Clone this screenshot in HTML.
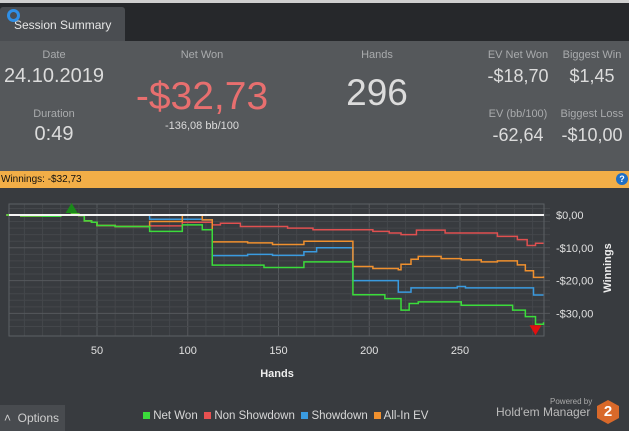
<!DOCTYPE html>
<html><head><meta charset="utf-8">
<style>
*{margin:0;padding:0;box-sizing:border-box}
body{width:629px;height:431px;overflow:hidden;background:#383b3f;font-family:"Liberation Sans",sans-serif;position:relative}
.abs{position:absolute}
.lbl{color:#a9abad;font-size:11px;text-align:center}
.val{color:#dcdcdc;text-align:center}
</style></head><body>
<div class="abs" style="left:0;top:0;width:629px;height:41px;background:#26282b;border-top:3px solid #cfcfcf"></div>
<div class="abs" style="left:0;top:7px;width:125px;height:34px;background:#4a4d51;border-radius:3px 3px 0 0;color:#e6e6e6;font-size:12px;line-height:36px;padding-left:14px">Session Summary</div>
<div class="abs" style="left:7px;top:9px;width:13px;height:13px;border:3px solid #2f8fe6;border-radius:50%"></div>
<div class="abs" style="left:0;top:41px;width:629px;height:130px;background:#55585b"></div>
<div class="abs lbl" style="left:14px;top:49px;width:80px">Date</div>
<div class="abs val" style="left:0;top:65px;width:108px;font-size:20px">24.10.2019</div>
<div class="abs lbl" style="left:14px;top:108px;width:80px">Duration</div>
<div class="abs val" style="left:14px;top:123px;width:80px;font-size:20px">0:49</div>
<div class="abs lbl" style="left:162px;top:49px;width:80px">Net Won</div>
<div class="abs" style="left:122px;top:75px;width:160px;text-align:center;color:#e86f6f;font-size:39px">-$32,73</div>
<div class="abs val" style="left:142px;top:120px;width:120px;font-size:11px">-136,08 bb/100</div>
<div class="abs lbl" style="left:337px;top:49px;width:80px">Hands</div>
<div class="abs val" style="left:317px;top:72px;width:120px;font-size:37px">296</div>
<div class="abs lbl" style="left:478px;top:49px;width:80px">EV Net Won</div>
<div class="abs val" style="left:473px;top:66px;width:90px;font-size:18px">-$18,70</div>
<div class="abs lbl" style="left:555px;top:49px;width:74px">Biggest Win</div>
<div class="abs val" style="left:555px;top:66px;width:74px;font-size:18px">$1,45</div>
<div class="abs lbl" style="left:478px;top:108px;width:80px">EV (bb/100)</div>
<div class="abs val" style="left:473px;top:125px;width:90px;font-size:18px">-62,64</div>
<div class="abs lbl" style="left:555px;top:108px;width:74px">Biggest Loss</div>
<div class="abs val" style="left:553px;top:125px;width:78px;font-size:18px">-$10,00</div>
<div class="abs" style="left:0;top:171px;width:629px;height:17px;background:#f2ae47;font-size:10px;line-height:17px;color:#111;padding-left:1px">Winnings: <b style="font-weight:normal">-$32,73</b></div>
<div class="abs" style="left:616px;top:173px;width:12px;height:12px;border-radius:50%;background:#1f6fc4;color:#fff;font-size:9px;line-height:12px;text-align:center;font-weight:bold">?</div>
<svg class="abs" style="left:0;top:188px" width="629" height="217">
<g id="grid" transform="translate(0,-188)"></g>
</svg>
<div class="abs" style="left:0;top:405px;width:65px;height:26px;background:#484b4f;color:#cfcfcf;font-size:12px;line-height:26px;padding-left:4px">&#x2C4;&nbsp;&nbsp;Options</div>
<div class="abs" style="left:143px;top:410px;font-size:11.5px;color:#d8d8d8;white-space:nowrap">
<span><i style="display:inline-block;width:7px;height:7px;background:#3bdc3b"></i> Net Won</span>&nbsp;
<span><i style="display:inline-block;width:7px;height:7px;background:#e85050"></i> Non Showdown</span>&nbsp;
<span><i style="display:inline-block;width:7px;height:7px;background:#3a9be0"></i> Showdown</span>&nbsp;
<span><i style="display:inline-block;width:7px;height:7px;background:#f0902e"></i> All-In EV</span></div>
<div class="abs" style="left:550px;top:397px;font-size:8px;color:#aaa">Powered by</div>
<div class="abs" style="left:496px;top:405px;font-size:12px;color:#bbb">Hold'em Manager</div>
<div class="abs" style="left:597px;top:400px;width:22px;height:24px;background:#d9692a;clip-path:polygon(50% 0,100% 25%,100% 75%,50% 100%,0 75%,0 25%);color:#fff;font-weight:bold;font-size:15px;text-align:center;line-height:24px">2</div>
<script>
const xTicks=[50,100,150,200,250];
const yTicks=[0,-10,-20,-30];
const yTickLabels=["$0,00","-$10,00","-$20,00","-$30,00"];
const netHands=[0,8,20,30,36,40,43,47,50,60,79,97,108,113.5,142,164,191,208.6,217.5,222,227,250.7,279,286,291.6,296];
const netVals=[0,-0.3,-0.4,0,0.3,-0.2,-1.8,-2.2,-3.2,-3.5,-5,-3,-4.5,-15.3,-16,-14.3,-24.3,-25.5,-29,-27,-26.5,-27.5,-29,-31,-33.3,-32.7];
const nsHands=[0,8,20,30,36,40,43,47,50,60,79,97,113.5,118,129,155,169,202,211,217.5,226,241.8,270.6,281.6,287,291.6,296];
const nsVals=[0,-0.3,-0.4,0,0.3,-0.2,-1.8,-2.2,-3.2,-3.5,-3.3,-2.2,-3,-2.5,-3.5,-4,-4.5,-5,-5.5,-6,-4.6,-5.5,-6.5,-7.5,-9.3,-8.6,-8.6];
const sdHands=[0,79,108,113.5,133,146.7,164,171,191,216,223,248.5,253,290.5,296];
const sdVals=[0,-1.3,-1.5,-12.4,-12,-12.3,-11.2,-10,-20,-23.5,-22.2,-21.8,-22.2,-24.4,-24.4];
const evHands=[0,8,20,30,36,40,43,47,50,60,79,97,108,113.5,133,146.7,164,191,202,216,217.5,223,227,239.6,250.7,261.7,270.6,281.6,286,290.5,296];
const evVals=[0,-0.3,-0.4,0,0.3,-0.2,-1.8,-2.2,-3.2,-3.5,-2,0,-1.5,-8.2,-8.5,-9,-8,-15.7,-16.3,-16.7,-15,-13.5,-12.6,-13.3,-13.7,-14.3,-14,-15.2,-17,-19,-18.7];
const NS="http://www.w3.org/2000/svg";
const x=h=>6.25+h*1.815, y=v=>215-v*3.28;
const L=9,R=544,T=204,B=336;
const g=document.getElementById('grid');
function mk(t,a){const e=document.createElementNS(NS,t);for(const k in a)e.setAttribute(k,a[k]);g.appendChild(e);return e;}
for(let h=10;h<296;h+=10){const e=mk('line',{x1:x(h),x2:x(h),y1:T,y2:B,stroke:h%50?'#44474b':'#55585c','stroke-width':1});

}
for(let v=-34;v<=2;v+=2){const e=mk('line',{x1:L,x2:R+6,y1:y(v),y2:y(v),stroke:v%10?'#44474b':'#55585c','stroke-width':1});

}
const fr=mk('rect',{x:L,y:T,width:R-L,height:B-T,fill:'none',stroke:'#5d6064'});


xTicks.forEach(h=>{const t=mk('text',{x:x(h),y:354,fill:'#e0e0e0','font-size':11,'text-anchor':'middle'});t.textContent=h;

});
yTicks.forEach((v,i)=>{const t=mk('text',{x:556,y:y(v)+4,fill:'#e0e0e0','font-size':11});t.textContent=yTickLabels[i];

});
const xt=mk('text',{x:277,y:377,fill:'#eee','font-size':11,'font-weight':'bold','text-anchor':'middle'});xt.textContent='Hands';


const yt=mk('text',{x:0,y:0,fill:'#eee','font-size':11,'font-weight':'bold','text-anchor':'middle',transform:'translate(611,268) rotate(-90)'});yt.textContent='Winnings';


function step(hs,vs,c,name){let d='M'+x(hs[0])+','+y(vs[0]);for(let i=1;i<hs.length;i++){d+='H'+x(hs[i])+'V'+y(vs[i]);}
const p=mk('path',{d:d,fill:'none',stroke:c,'stroke-width':1.5});

}
step(sdHands,sdVals,'#3a9be0','line-showdown');
step(nsHands,nsVals,'#e05050','line-non-showdown');
step(evHands,evVals,'#f0902e','line-all-in-ev');
step(netHands,netVals,'#3bdc3b','line-net-won');
const zl=mk('line',{x1:L,x2:R,y1:y(0),y2:y(0),stroke:'#f4f4f4','stroke-width':2});


let mi=0,ma=0;netVals.forEach((v,i)=>{if(v>netVals[ma])ma=i;if(v<netVals[mi])mi=i;});
const hx=x(netHands[ma]),hy=y(netVals[ma]);
const up=mk('polygon',{points:`${hx-6},${hy-1} ${hx+6},${hy-1} ${hx},${hy-11}`,fill:'#1a8a1a'});


const lx=x(netHands[mi]),ly=y(netVals[mi]);
const dn=mk('polygon',{points:`${lx-6},${ly+1} ${lx+6},${ly+1} ${lx},${ly+11}`,fill:'#e01010'});


</script>
</body></html>
